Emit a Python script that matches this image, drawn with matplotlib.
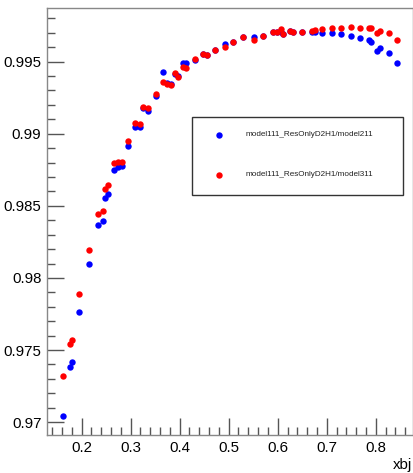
import matplotlib
matplotlib.use('Agg')
import matplotlib.pyplot as plt
from matplotlib.patches import Rectangle
from matplotlib.lines import Line2D

plt.rcParams['font.family'] = ['Liberation Sans', 'DejaVu Sans']

# xbj values (shared by both graphs)
xbj = [0.1624, 0.1761, 0.1812, 0.1951, 0.2159, 0.2339, 0.2441, 0.2482, 0.2543, 0.2659,
       0.2731, 0.2816, 0.2939, 0.3088, 0.3190, 0.3257, 0.3347, 0.3510, 0.3653, 0.3735,
       0.3816, 0.3904, 0.3959, 0.4061, 0.4129, 0.4312, 0.4469, 0.4563, 0.4720, 0.4924,
       0.5094, 0.5298, 0.5516, 0.5706, 0.5898, 0.5980, 0.6067, 0.6114, 0.6251, 0.6318,
       0.6502, 0.6706, 0.6761, 0.6898, 0.7102, 0.7292, 0.7490, 0.7680, 0.7869, 0.7904,
       0.8020, 0.8088, 0.8271, 0.8429]

ratio_211 = [0.97043, 0.97383, 0.97414, 0.97764, 0.98097, 0.98365, 0.98397, 0.98553, 0.98580, 0.98749,
             0.98772, 0.98777, 0.98917, 0.99049, 0.99049, 0.99177, 0.99160, 0.99262, 0.99431, 0.99350,
             0.99343, 0.99415, 0.99401, 0.99493, 0.99493, 0.99512, 0.99553, 0.99546, 0.99581, 0.99621,
             0.99635, 0.99669, 0.99669, 0.99678, 0.99706, 0.99704, 0.99708, 0.99690, 0.99713, 0.99704,
             0.99708, 0.99704, 0.99704, 0.99701, 0.99697, 0.99690, 0.99680, 0.99666, 0.99650, 0.99635,
             0.99576, 0.99597, 0.99558, 0.99489]

ratio_311 = [0.97320, 0.97542, 0.97570, 0.97889, 0.98194, 0.98442, 0.98463, 0.98617, 0.98645, 0.98800,
             0.98802, 0.98804, 0.98950, 0.99073, 0.99068, 0.99188, 0.99177, 0.99274, 0.99361, 0.99343,
             0.99338, 0.99420, 0.99396, 0.99461, 0.99454, 0.99517, 0.99553, 0.99546, 0.99581, 0.99604,
             0.99635, 0.99669, 0.99650, 0.99678, 0.99706, 0.99704, 0.99727, 0.99690, 0.99713, 0.99704,
             0.99708, 0.99713, 0.99720, 0.99725, 0.99732, 0.99736, 0.99743, 0.99736, 0.99736, 0.99734,
             0.99697, 0.99713, 0.99701, 0.99650]

label_211 = 'model111_ResOnlyD2H1/model211'
label_311 = 'model111_ResOnlyD2H1/model311'

W, H = 414, 473
fig = plt.figure(figsize=(W / 100, H / 100), dpi=100)
ax = fig.add_axes([47 / W, 1 - 435 / H, (412.7 - 47) / W, (435 - 8) / H])

ax.plot(xbj, ratio_211, 'o', color='#0000ff', ms=4.6, mec='none', label=label_211)
ax.plot(xbj, ratio_311, 'o', color='#ff0000', ms=4.6, mec='none', label=label_311)

ax.set_xlim(0.1292, 0.8755)
ax.set_ylim(0.96911, 0.99872)

ax.set_xticks([0.2, 0.3, 0.4, 0.5, 0.6, 0.7, 0.8])
ax.set_xticklabels(['0.2', '0.3', '0.4', '0.5', '0.6', '0.7', '0.8'])
ax.set_yticks([0.97, 0.975, 0.98, 0.985, 0.99, 0.995])
ax.set_yticklabels(['0.97', '0.975', '0.98', '0.985', '0.99', '0.995'])
ax.set_xticks([0.14 + 0.02 * i for i in range(37) if abs((0.14 + 0.02 * i) * 10 - round((0.14 + 0.02 * i) * 10)) > 1e-6], minor=True)
ax.set_yticks([0.970 + 0.001 * i for i in range(29) if i % 5 != 0], minor=True)

ax.tick_params(which='major', direction='in', length=12, width=1, color='#555555',
               labelsize=10.8, pad=4, top=False, right=False)
ax.tick_params(which='minor', direction='in', length=6, width=1, color='#555555',
               top=False, right=False)
for s in ax.spines.values():
    s.set_color('#888888')
    s.set_linewidth(1)

fig.text(412 / W, 1 - 465 / H, 'xbj', ha='right', va='center', fontsize=10.8)

# legend box
box = Rectangle((191.7 / W, 1 - 195 / H), (403.3 - 191.7) / W, (195 - 116.7) / H,
                transform=fig.transFigure, facecolor='white', edgecolor='#333333', lw=1)
fig.add_artist(box)
for yy, col, lab in [(135, '#0000ff', label_211), (175, '#ff0000', label_311)]:
    fig.add_artist(Line2D([219 / W], [1 - yy / H], marker='o', color=col, ms=4.6, mec='none',
                          transform=fig.transFigure))
    fig.text(246 / W, 1 - yy / H, lab, ha='left', va='center', fontsize=5.9, color='#222222')

fig.savefig('out.png', dpi=100)
